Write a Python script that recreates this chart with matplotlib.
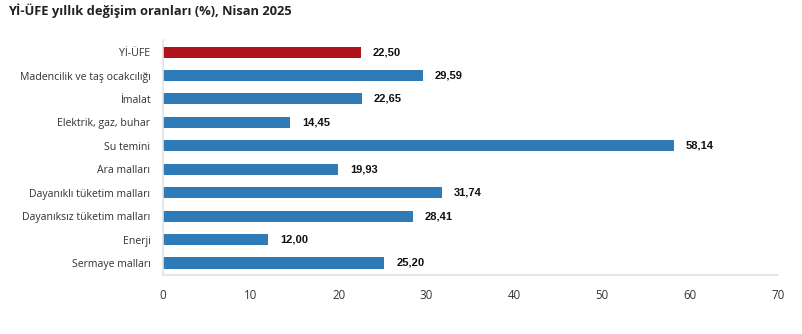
import numpy as np
import matplotlib.pyplot as plt

# data
categories = ["Yİ-ÜFE", "Madencilik ve taş ocakcılığı", "İmalat", "Elektrik, gaz, buhar",
              "Su temini", "Ara malları", "Dayanıklı tüketim malları",
              "Dayanıksız tüketim malları", "Enerji", "Sermaye malları"]
values = [22.50, 29.59, 22.65, 14.45, 58.14, 19.93, 31.74, 28.41, 12.00, 25.20]
xticks = [0, 10, 20, 30, 40, 50, 60, 70]

blue = "#2f7bb7"
red = "#b0141b"

fig = plt.figure(figsize=(8.02, 3.34), dpi=100)
ax = fig.add_axes([0.2032, 0.1775, 0.7668, 0.7015])

y = np.arange(len(categories))
colors = [red] + [blue] * (len(categories) - 1)
ax.barh(y, values, height=0.47, color=colors)

for yi, v in zip(y, values):
    ax.text(v + 1.35, yi, f"{v:.2f}".replace(".", ","), va="center", ha="left",
            fontsize=8, fontweight="bold", family="Liberation Sans", color="#111111")

ax.set_ylim(len(categories) - 0.5, -0.5)
ax.set_xlim(0, 70)
ax.set_xticks(xticks)
ax.set_xticklabels([str(t) for t in xticks], family="Open Sans", fontsize=8.3, color="#333333")
ax.set_yticks(y)
ax.set_yticklabels(categories, family="Open Sans", fontsize=7.6, color="#333333")
ax.tick_params(axis="both", length=0)
ax.tick_params(axis="y", pad=9)
ax.tick_params(axis="x", pad=10)

for s in ["top", "right"]:
    ax.spines[s].set_visible(False)
for s in ["left", "bottom"]:
    ax.spines[s].set_color("#e3e3e3")
    ax.spines[s].set_linewidth(1.2)

fig.text(0.01, 0.99, "Yİ-ÜFE yıllık değişim oranları (%), Nisan 2025", family="Open Sans",
         fontsize=9.3, fontweight="bold", color="#222222", va="top", ha="left")

fig.savefig("out.png", dpi=100)
